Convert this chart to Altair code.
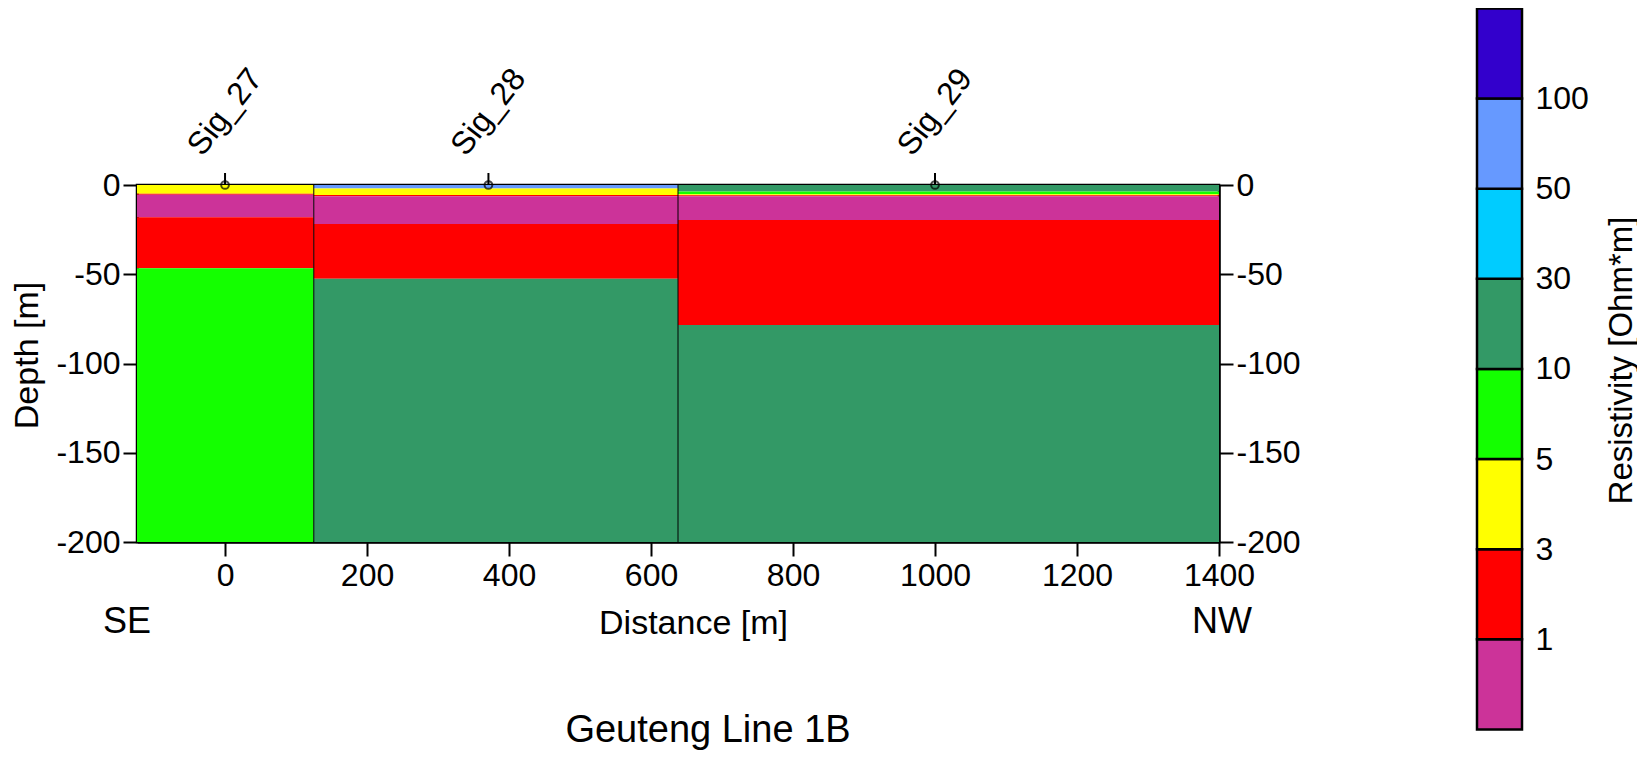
import altair as alt
import pandas as pd

# ---- data ----
thresholds = [1, 3, 5, 10, 30, 50, 100]
colors = ['#cc3399', '#ff0000', '#ffff00', '#14ff00', '#339966', '#00ccff', '#6699ff', '#3300cc']
bin_res = [0.5, 2, 4, 7, 15, 40, 70, 150]          # representative resistivity of each colour bin

block_start = [-124, 125, 638]
block_end = [125, 638, 1400]
block_bounds = [
    [0, -4.9, -5.4, -18.1, -46.7, -200],
    [0, -2.0, -5.6, -6.3, -21.9, -52.5, -200],
    [0, -3.7, -5.2, -5.8, -6.3, -19.6, -78.5, -200],
]
block_res = [
    [4, 2, 0.5, 2, 7],
    [70, 4, 2, 0.5, 2, 15],
    [15, 7, 4, 2, 0.5, 2, 15],
]
sig_names = ['Sig_27', 'Sig_28', 'Sig_29']
sig_x = [0, 371, 1000]
x_ticks = [0, 200, 400, 600, 800, 1000, 1200, 1400]
y_ticks = [0, -50, -100, -150, -200]

# ---- tables ----
rows = []
for bi, (bounds, res) in enumerate(zip(block_bounds, block_res)):
    for j, r in enumerate(res):
        rows.append(dict(x0=block_start[bi], x1=block_end[bi], top=bounds[j], bot=bounds[j + 1], res=r))
df_layers = pd.DataFrame(rows)
df_sep = pd.DataFrame({'xb': block_start[1:]})
df_sig = pd.DataFrame({'name': sig_names, 'x': sig_x})
df_cb = pd.DataFrame({'idx': list(range(len(bin_res))), 'res': bin_res})
df_cb['idx1'] = df_cb['idx'] + 1

FONT = 'Liberation Sans'
cscale = alt.Scale(type='threshold', domain=thresholds, range=colors)
xs = alt.Scale(domain=[block_start[0], block_end[-1]], nice=False, zero=False)
ys = alt.Scale(domain=[-200, 0], nice=False, zero=False)
plain = "'' + datum.value"

x_axis = alt.Axis(values=x_ticks, labelExpr=plain, tickSize=14, tickWidth=2, labelPadding=4,
                  labelFontSize=32, labelFlush=False, labelOverlap=False, domainWidth=2.5, grid=False,
                  title='Distance [m]', titleFontSize=34, titleX=556, titleY=91,
                  titleBaseline='alphabetic', titleFontWeight='normal')
y_left = alt.Axis(orient='left', values=y_ticks, labelExpr=plain, tickSize=14, tickWidth=2,
                  labelPadding=3, labelFontSize=32, labelFlush=False, labelOverlap=False,
                  domainWidth=2.5, grid=False,
                  title='Depth [m]', titleFontSize=34, titleX=-100, titleY=170, titleAngle=270,
                  titleAlign='center', titleBaseline='alphabetic', titleFontWeight='normal')
y_right = alt.Axis(orient='right', values=y_ticks, labelExpr=plain, tickSize=14, tickWidth=2,
                   labelPadding=3, labelFontSize=32, labelFlush=False, labelOverlap=False,
                   domainWidth=2.5, grid=False, title=None)

label_list = "['','" + "','".join(str(t) for t in thresholds) + "']"
cb_axis = alt.Axis(orient='right', offset=303, values=list(range(1, len(thresholds) + 1)),
                   labelExpr=label_list + "[datum.value]", ticks=False, domain=False, grid=False,
                   labelPadding=13, labelFontSize=32, labelFlush=False, labelOverlap=False,
                   title='Resistivity [Ohm*m]', titleFontSize=33, titleAngle=270, titleX=109,
                   titleY=175, titleAlign='center', titleBaseline='alphabetic',
                   titleFontWeight='normal')

rects = alt.Chart(df_layers).mark_rect().encode(
    x=alt.X('x0:Q', scale=xs, axis=x_axis),
    x2='x1:Q',
    y=alt.Y('top:Q', scale=ys, axis=y_left),
    y2='bot:Q',
    color=alt.Color('res:Q', scale=cscale, legend=None),
)
seps = alt.Chart(df_sep).mark_rule(color='black', strokeWidth=1).encode(
    x='xb:Q', y=alt.datum(0), y2=alt.datum(-200)
)
stems = alt.Chart(df_sig).mark_rule(color='black', strokeWidth=2).encode(
    x='x:Q', y=alt.value(-12), y2=alt.datum(0)
)
points = alt.Chart(df_sig).mark_point(shape='circle', filled=False, size=60, color='black',
                                      strokeWidth=2).encode(x='x:Q', y=alt.datum(0))
sig_text = alt.Chart(df_sig).mark_text(angle=308, align='center', baseline='middle', fontSize=32,
                                       font=FONT, color='black').encode(
    x='x:Q', y=alt.value(-73), text='name:N'
)
se_text = alt.Chart(pd.DataFrame({'t': ['SE']})).mark_text(align='left', baseline='alphabetic',
                                                          fontSize=36, font=FONT, color='black').encode(
    x=alt.value(-34), y=alt.value(448), text='t:N')
nw_text = alt.Chart(pd.DataFrame({'t': ['NW']})).mark_text(align='right', baseline='alphabetic',
                                                          fontSize=36, font=FONT, color='black').encode(
    x=alt.value(1115), y=alt.value(448), text='t:N')
title_text = alt.Chart(pd.DataFrame({'t': ['Geuteng Line 1B']})).mark_text(
    align='center', baseline='alphabetic', fontSize=38, font=FONT, color='black').encode(
    x=alt.value(571), y=alt.value(557), text='t:N')

depth = alt.layer(rects, seps, stems, points, sig_text, se_text, nw_text, title_text)

right_axis = alt.Chart(df_layers).mark_rule(opacity=0).encode(
    y=alt.Y('top:Q', scale=alt.Scale(domain=[-200, 0], nice=False, zero=False), axis=y_right)
)

cbar = alt.Chart(df_cb).mark_rect(stroke='black', strokeWidth=2.5).encode(
    x=alt.X(datum=0, scale=alt.Scale(domain=[0, 1], range=[1340, 1385]), axis=None),
    x2=alt.datum(1),
    y=alt.Y('idx:Q', scale=alt.Scale(domain=[0, len(bin_res)], range=[544.5, -176.6], nice=False, zero=False),
            axis=cb_axis),
    y2='idx1:Q',
    color=alt.Color('res:Q', scale=cscale, legend=None),
)

chart = alt.layer(depth, right_axis, cbar).resolve_scale(
    x='independent', y='independent'
).resolve_axis(x='independent', y='independent').properties(
    width=1082, height=357,
    autosize=alt.AutoSizeParams(type='none'),
    padding={'left': 129, 'top': 177, 'right': 418, 'bottom': 210},
    background='white',
).configure(font=FONT).configure_view(
    stroke='black', strokeWidth=2.5
).configure_axis(
    labelColor='black', titleColor='black', tickColor='black', domainColor='black',
    labelFont=FONT, titleFont=FONT
)

chart.save('out.html', embed_options={'renderer': 'svg', 'actions': False})
